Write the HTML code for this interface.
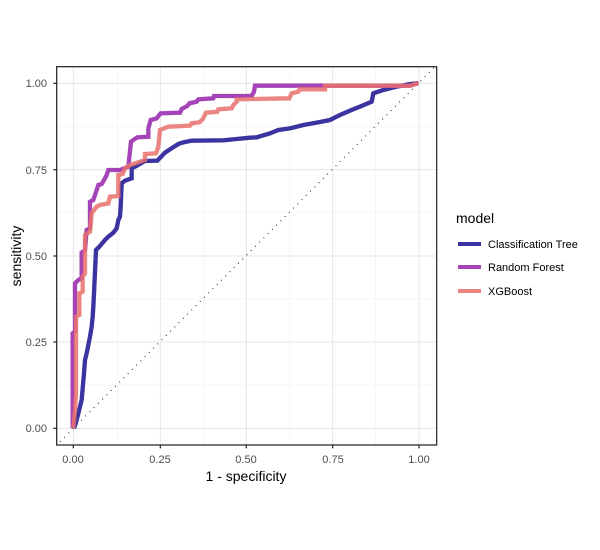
<!DOCTYPE html>
<html><head><style>body{margin:0;background:#fff}svg{display:block}</style></head><body>
<svg width="600" height="550" xmlns="http://www.w3.org/2000/svg" font-family="Liberation Sans, sans-serif">
<rect width="600" height="550" fill="#fff"/>
<g transform="translate(50,60) scale(0.33333)">
 <g stroke="#f2f2f2" stroke-width="2">
  <line x1="20" x2="1160" y1="975" y2="975"/><line x1="20" x2="1160" y1="717" y2="717"/><line x1="20" x2="1160" y1="458" y2="458"/><line x1="20" x2="1160" y1="199" y2="199"/>
  <line y1="20" y2="1155" x1="202" x2="202"/><line y1="20" y2="1155" x1="460" x2="460"/><line y1="20" y2="1155" x1="718" x2="718"/><line y1="20" y2="1155" x1="977" x2="977"/>
 </g>
 <g stroke="#e6e6e6" stroke-width="3">
  <line x1="20" x2="1160" y1="1105" y2="1105"/><line x1="20" x2="1160" y1="846" y2="846"/><line x1="20" x2="1160" y1="588" y2="588"/><line x1="20" x2="1160" y1="329" y2="329"/><line x1="20" x2="1160" y1="70" y2="70"/>
  <line y1="20" y2="1155" x1="70" x2="70"/><line y1="20" y2="1155" x1="331" x2="331"/><line y1="20" y2="1155" x1="589" x2="589"/><line y1="20" y2="1155" x1="848" x2="848"/><line y1="20" y2="1155" x1="1107" x2="1107"/>
 </g>
 <line x1="30" y1="1145" x2="1160" y2="15" stroke="#000" stroke-width="4" stroke-dasharray="2,16"/>
 <g fill="none" stroke-width="13" stroke-linejoin="miter">
 <polyline stroke="#3b33a0" points="72,1105 80,1080 95,1020 98,985 102,940 105,900 110,880 115,855 120,830 125,800 128,770 130,740 132,700 135,635 138,570 148,560 165,540 175,530 190,518 200,505 205,480 210,470 212,440 215,370 225,362 245,355 245,325 255,320 285,303 322,302 345,278 360,268 385,252 400,247 425,242 520,241 560,237 600,233 620,232 660,220 685,210 720,205 760,195 800,188 840,180 870,165 900,152 930,140 965,125 970,100 1000,90 1040,80 1080,72 1105,70"/>
 <polyline stroke="#9b30b0" stroke-opacity="0.9" points="68,1105 68,820 75,815 75,670 85,660 95,655 95,578 105,570 110,510 120,505 120,425 130,420 135,405 140,390 145,375 155,372 165,355 170,345 175,330 210,330 235,320 243,245 250,240 262,232 295,230 295,205 302,180 320,175 332,160 390,158 395,147 412,138 418,130 440,125 445,118 490,115 492,108 605,108 612,95 615,77 1080,77 1100,70 1105,70"/>
 <polyline stroke="#e8706c" stroke-opacity="0.85" points="70,1105 75,1050 78,1000 78,770 88,765 88,700 98,695 98,650 105,640 105,525 120,515 125,460 140,440 150,435 175,430 180,410 205,408 205,345 218,342 225,325 240,315 270,305 285,300 285,282 318,280 325,260 330,210 355,200 420,197 425,190 448,187 458,178 468,158 502,155 505,148 545,145 550,135 560,125 560,118 718,115 725,100 745,95 748,88 825,88 825,77 1080,77 1105,70"/>
 </g>
 <rect x="20" y="20" width="1140" height="1135" fill="none" stroke="#333" stroke-width="4"/>
 <g stroke="#333" stroke-width="4">
  <line x1="10" x2="20" y1="1105" y2="1105"/><line x1="10" x2="20" y1="846" y2="846"/><line x1="10" x2="20" y1="588" y2="588"/><line x1="10" x2="20" y1="329" y2="329"/><line x1="10" x2="20" y1="70" y2="70"/>
  <line y1="1155" y2="1165" x1="70" x2="70"/><line y1="1155" y2="1165" x1="331" x2="331"/><line y1="1155" y2="1165" x1="589" x2="589"/><line y1="1155" y2="1165" x1="848" x2="848"/><line y1="1155" y2="1165" x1="1107" x2="1107"/>
 </g>
</g>
<g font-size="11" fill="#4d4d4d" text-anchor="end">
 <text x="47" y="432">0.00</text><text x="47" y="346">0.25</text><text x="47" y="260">0.50</text><text x="47" y="174">0.75</text><text x="47" y="87">1.00</text>
</g>
<g font-size="11" fill="#4d4d4d" text-anchor="middle">
 <text x="73" y="463">0.00</text><text x="160" y="463">0.25</text><text x="246" y="463">0.50</text><text x="333" y="463">0.75</text><text x="419" y="463">1.00</text>
</g>
<text x="246" y="481" font-size="14" text-anchor="middle">1 - specificity</text>
<text transform="translate(21,256) rotate(-90)" font-size="14" text-anchor="middle">sensitivity</text>
<text x="456" y="223" font-size="14">model</text>
<g stroke-width="4">
 <line x1="458" x2="481" y1="244" y2="244" stroke="#3b33a0"/>
 <line x1="458" x2="481" y1="267" y2="267" stroke="#9b30b0" stroke-opacity="0.9"/>
 <line x1="458" x2="481" y1="291" y2="291" stroke="#e8706c" stroke-opacity="0.85"/>
</g>
<g font-size="11" fill="#000">
 <text x="488" y="248">Classification Tree</text><text x="488" y="271">Random Forest</text><text x="488" y="295">XGBoost</text>
</g>
</svg>
</body></html>
